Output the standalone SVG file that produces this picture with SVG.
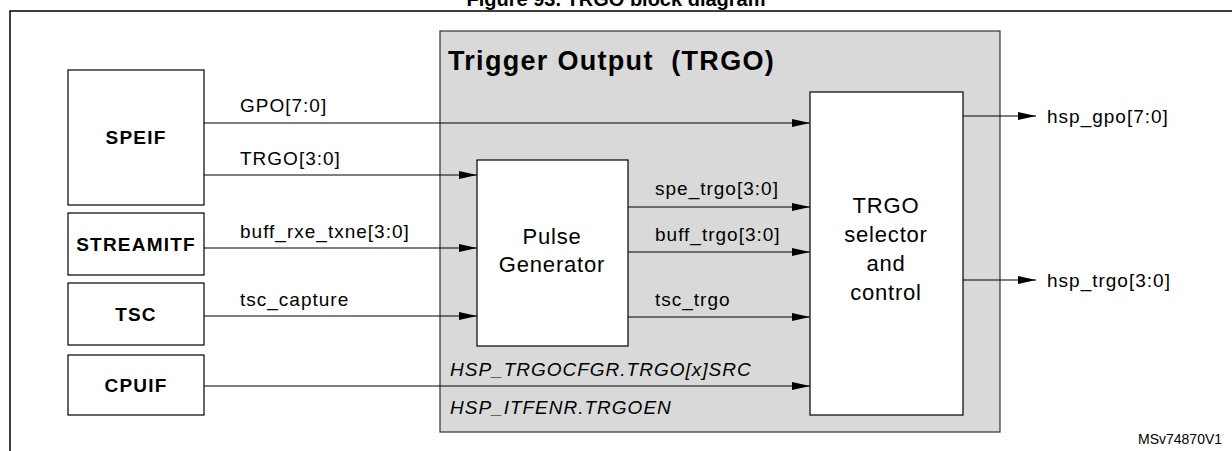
<svg xmlns="http://www.w3.org/2000/svg" width="1232" height="451" viewBox="0 0 1232 451">
<style>
text{font-family:"Liberation Sans",Arial,sans-serif;fill:#000}
.n{font-size:19px;letter-spacing:1px}
.b{font-size:19px;font-weight:bold;letter-spacing:1.2px}
.i{font-size:19px;font-style:italic;letter-spacing:1px}
.c{font-size:22px;letter-spacing:0.8px}
.box{fill:#fff;stroke:#000;stroke-width:1.2}
line{stroke:#000;stroke-width:1.2}
</style>
<defs><marker id="a" markerWidth="18" markerHeight="8" refX="18" refY="4" orient="auto" markerUnits="userSpaceOnUse"><path d="M0,0 L18,4 L0,8 z" fill="#000"/></marker></defs>
<rect width="1232" height="451" fill="#fff"/>
<text x="616" y="6" text-anchor="middle" style="font-size:20px;font-weight:bold">Figure 93. TRGO block diagram</text>
<path d="M10,451 V11 H1232" fill="none" stroke="#000" stroke-width="1.5"/>
<g id="trgo"><rect x="440" y="31" width="560" height="401" fill="#d9d9d9" stroke="#333" stroke-width="1.2"/><text x="448" y="70" xml:space="preserve" style="font-size:27px;font-weight:bold;letter-spacing:1.3px">Trigger Output  (TRGO)</text></g>
<g id="speif"><rect class="box" x="68" y="70" width="136" height="135"/><text class="b" x="136" y="144" text-anchor="middle">SPEIF</text></g>
<g id="streamitf"><rect class="box" x="68" y="213" width="136" height="62"/><text class="b" x="136" y="251" text-anchor="middle">STREAMITF</text></g>
<g id="tsc"><rect class="box" x="68" y="283" width="136" height="62"/><text class="b" x="136" y="321" text-anchor="middle">TSC</text></g>
<g id="cpuif"><rect class="box" x="68" y="355" width="136" height="60"/><text class="b" x="136" y="392" text-anchor="middle">CPUIF</text></g>
<g id="pulse"><rect class="box" x="477" y="160" width="151" height="186"/><text class="c" x="552" y="244" text-anchor="middle">Pulse</text><text class="c" x="552" y="272" text-anchor="middle">Generator</text></g>
<g id="sel"><rect class="box" x="810" y="92" width="153" height="323"/><text class="c" x="886" y="213" text-anchor="middle">TRGO</text><text class="c" x="886" y="242" text-anchor="middle">selector</text><text class="c" x="886" y="271" text-anchor="middle">and</text><text class="c" x="886" y="300" text-anchor="middle">control</text></g>
<g id="connectors">
<line x1="204" y1="123" x2="810" y2="123" marker-end="url(#a)"/>
<line x1="204" y1="175" x2="477" y2="175" marker-end="url(#a)"/>
<line x1="204" y1="248" x2="477" y2="248" marker-end="url(#a)"/>
<line x1="204" y1="316" x2="477" y2="316" marker-end="url(#a)"/>
<line x1="628" y1="207" x2="810" y2="207" marker-end="url(#a)"/>
<line x1="628" y1="252" x2="810" y2="252" marker-end="url(#a)"/>
<line x1="628" y1="317" x2="810" y2="317" marker-end="url(#a)"/>
<line x1="204" y1="386" x2="810" y2="386" marker-end="url(#a)"/>
<line x1="963" y1="116" x2="1036" y2="116" marker-end="url(#a)"/>
<line x1="963" y1="280" x2="1036" y2="280" marker-end="url(#a)"/>
<text class="n" x="240" y="112">GPO[7:0]</text>
<text class="n" x="240" y="165">TRGO[3:0]</text>
<text class="n" x="240" y="238">buff_rxe_txne[3:0]</text>
<text class="n" x="240" y="306">tsc_capture</text>
<text class="n" x="655" y="195">spe_trgo[3:0]</text>
<text class="n" x="655" y="241">buff_trgo[3:0]</text>
<text class="n" x="655" y="306">tsc_trgo</text>
<text class="i" x="450" y="376">HSP_TRGOCFGR.TRGO[x]SRC</text>
<text class="i" x="450" y="414">HSP_ITFENR.TRGOEN</text>
<text class="n" x="1047" y="123">hsp_gpo[7:0]</text>
<text class="n" x="1047" y="287">hsp_trgo[3:0]</text>
</g>
<text x="1138" y="444" style="font-size:14px">MSv74870V1</text>
</svg>
